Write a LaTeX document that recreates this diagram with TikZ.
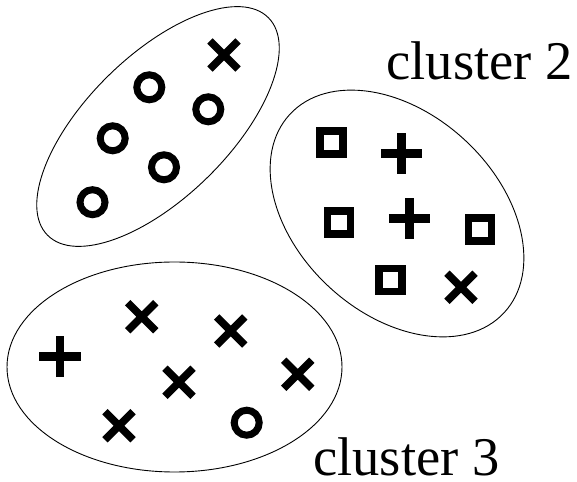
\documentclass[tikz,border=0pt]{standalone}
\usepackage{fontspec}
\setmainfont{Liberation Serif}
\usetikzlibrary{shapes.misc}
\begin{document}
\begin{tikzpicture}[x=1pt,y=1pt,
  cluster/.style={draw=black, line width=0.9pt},
  ring/.style={circle, draw=black, line width=7pt, minimum size=25pt, inner sep=0pt},
  sq/.style={rectangle, draw=black, line width=7.5pt, minimum size=23pt, inner sep=0pt},
  crossmark/.style={cross out, draw=black, line width=7.6pt, minimum size=20.5pt, inner sep=0pt},
  plusmark/.style={cross out, draw=black, line width=8.5pt, minimum size=20.5pt, inner sep=0pt, rotate=45},
  lbl/.style={font=\fontsize{54.5}{60}\selectfont, inner sep=0pt, anchor=base west}
]
\useasboundingbox (0,0) rectangle (577,481);
\clip (0,0) rectangle (577,481);
% cluster outlines
\draw[cluster, rotate around={44.5:(158,354.5)}] (158,354.5) ellipse [x radius=155, y radius=71];
\draw[cluster, rotate around={-42.8:(397,267.5)}] (397,267.5) ellipse [x radius=146, y radius=100];
\draw[cluster] (174.5,114) ellipse [x radius=167.5, y radius=105];
% cluster 1
\node[crossmark] (a1) at (224,426) {};
\node[ring] (a2) at (149.3,393.7) {};
\node[ring] (a3) at (208.3,371.7) {};
\node[ring] (a4) at (112.7,342.7) {};
\node[ring] (a5) at (164,313.7) {};
\node[ring] (a6) at (92.5,278.8) {};
% cluster 2
\node[sq] (b1) at (331.7,338.3) {};
\node[plusmark] (b2) at (401.7,327.7) {};
\node[sq] (b3) at (339,258.7) {};
\node[plusmark] (b4) at (409.3,262.7) {};
\node[sq] (b5) at (480,251.7) {};
\node[sq] (b6) at (390.7,201) {};
\node[crossmark] (b7) at (461,193.7) {};
% cluster 3
\node[crossmark] (c1) at (141.7,164.3) {};
\node[crossmark] (c2) at (230.7,150) {};
\node[plusmark] (c3) at (60,124.3) {};
\node[crossmark] (c4) at (179,98.7) {};
\node[crossmark] (c5) at (119,55.3) {};
\node[ring] (c6) at (246.7,58.3) {};
\node[crossmark] (c7) at (297.7,106.7) {};
% labels
\node[lbl] (l1) at (20.5,481.1) {cluster 1};
\node[lbl] (l2) at (386.3,401) {cluster 2};
\node[lbl] (l3) at (313,6) {cluster 3};
\end{tikzpicture}
\end{document}
